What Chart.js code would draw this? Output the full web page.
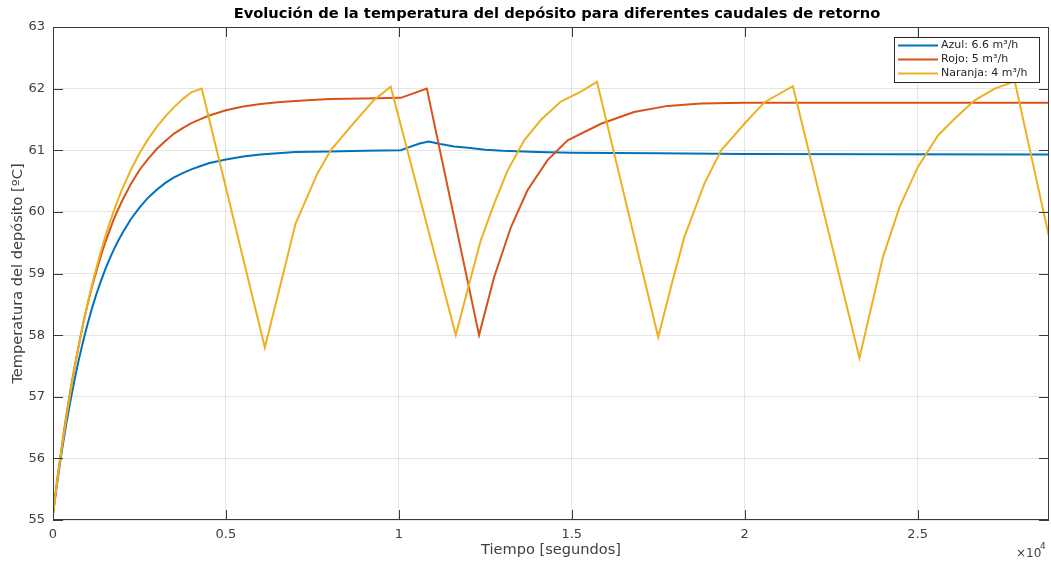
<!DOCTYPE html>
<html>
<head>
<meta charset="utf-8">
<script src="https://cdn.jsdelivr.net/npm/chart.js@4.4.0/dist/chart.umd.min.js"></script>
<style>
  html, body { margin: 0; padding: 0; background: #fff; }
  #wrap { width: 1051px; height: 563px; }
</style>
</head>
<body>
<div id="wrap"><canvas id="chart" width="1051" height="563"></canvas></div>
<script>
// Datos (tiempo en segundos, temperatura en ºC)
const tAzul = [0, 125, 250, 375, 500, 625, 750, 875, 1000, 1125, 1250, 1375, 1500, 1625, 1750, 1875, 2000,
  2250, 2500, 2750, 3000, 3250, 3500, 3750, 4000, 4250, 4500, 5000, 5500, 6000, 6500, 7000, 8000, 9000,
  10055, 10300, 10600, 10865, 11200, 11600, 12000, 12500, 13000, 14000, 15000, 17500, 20000, 24000, 28800];
const azul = [55.1, 55.62, 56.10, 56.53, 56.92, 57.28, 57.61, 57.91, 58.18, 58.43, 58.66, 58.86, 59.05, 59.22, 59.38, 59.52, 59.65,
  59.88, 60.07, 60.23, 60.36, 60.47, 60.56, 60.63, 60.69, 60.74, 60.79, 60.85, 60.90, 60.93, 60.95, 60.97, 60.98, 60.99,
  61.0, 61.05, 61.11, 61.14, 61.10, 61.06, 61.04, 61.01, 60.99, 60.97, 60.96, 60.95, 60.94, 60.935, 60.93];

const tRojo = [0, 125, 250, 375, 500, 625, 750, 875, 1000, 1125, 1250, 1375, 1500, 1625, 1750, 1875, 2000,
  2250, 2500, 2750, 3000, 3250, 3500, 3750, 4000, 4250, 4500, 5000, 5500, 6000, 6500, 7000, 8000, 9000,
  10055, 10810, 12320, 12755, 13240, 13720, 14300, 14880, 15845, 16800, 17775, 18740, 20000, 24000, 28800];
const rojo = [55.1, 55.67, 56.18, 56.66, 57.09, 57.49, 57.85, 58.19, 58.50, 58.78, 59.03, 59.27, 59.49, 59.68, 59.87, 60.03, 60.18,
  60.45, 60.68, 60.86, 61.02, 61.15, 61.27, 61.36, 61.44, 61.50, 61.56, 61.65, 61.71, 61.75, 61.78, 61.80, 61.83, 61.84,
  61.85, 62.0, 58.0, 58.94, 59.75, 60.35, 60.84, 61.16, 61.43, 61.62, 61.72, 61.76, 61.77, 61.77, 61.77];

const tNaranja = [0, 125, 250, 375, 500, 625, 750, 875, 1000, 1125, 1250, 1375, 1500, 1625, 1750, 1875, 2000,
  2250, 2500, 2750, 3000, 3250, 3500, 3750, 4000, 4300,
  6126, 6570, 7014, 7643, 8028, 8694, 9273, 9765,
  11647, 11985, 12370, 12755, 13143, 13625, 14105, 14685, 15265, 15730,
  17500, 17920, 18255, 18835, 19320, 19993, 20573, 21394,
  23320, 24000, 24480, 25010, 25590, 26070, 26650, 27230, 27810, 28800];
const naranja = [55.1, 55.65, 56.16, 56.62, 57.06, 57.47, 57.84, 58.19, 58.51, 58.81, 59.08, 59.34, 59.58, 59.80, 60.00, 60.19, 60.37,
  60.68, 60.95, 61.18, 61.38, 61.55, 61.70, 61.83, 61.94, 62.0,
  57.8, 58.8, 59.81, 60.62, 61.0, 61.44, 61.81, 62.03,
  58.0, 58.73, 59.54, 60.13, 60.67, 61.16, 61.49, 61.79, 61.95, 62.11,
  57.97, 58.89, 59.59, 60.46, 61.0, 61.43, 61.78, 62.04,
  57.63, 59.27, 60.08, 60.73, 61.24, 61.51, 61.81, 62.0, 62.12, 59.6];

const xTicks = [0, 5000, 10000, 15000, 20000, 25000];
const yTicks = [55, 56, 57, 58, 59, 60, 61, 62, 63];
const etiquetas = ["Azul: 6.6 m³/h", "Rojo: 5 m³/h", "Naranja: 4 m³/h"];
const colores = ["#0072BD", "#D95319", "#EDB120"];
const titulo = "Evolución de la temperatura del depósito para diferentes caudales de retorno";

function puntos(ts, vs) {
  return ts.map((t, i) => ({ x: t, y: vs[i] }));
}

Chart.defaults.font.family = "'DejaVu Sans', sans-serif";
Chart.defaults.color = "#404040";

// Marco, ticks interiores, leyenda, título y el x10^4
const decor = {
  id: "decor",
  afterDraw(chart) {
    const ctx = chart.ctx;
    const a = chart.chartArea;
    const xs = chart.scales.x, ys = chart.scales.y;
    ctx.save();
    ctx.strokeStyle = "#3a3a3a";
    ctx.lineWidth = 1;
    ctx.strokeRect(Math.round(a.left) + 0.5, Math.round(a.top) + 0.5,
      Math.round(a.right - a.left) - 1, Math.round(a.bottom - a.top) - 1);
    ctx.beginPath();
    xs.ticks.forEach(t => {
      const px = Math.round(xs.getPixelForValue(t.value)) + 0.5;
      ctx.moveTo(px, a.bottom); ctx.lineTo(px, a.bottom - 10);
      ctx.moveTo(px, a.top); ctx.lineTo(px, a.top + 10);
    });
    ys.ticks.forEach(t => {
      const py = Math.round(ys.getPixelForValue(t.value)) + 0.5;
      ctx.moveTo(a.left, py); ctx.lineTo(a.left + 10, py);
      ctx.moveTo(a.right, py); ctx.lineTo(a.right - 10, py);
    });
    ctx.stroke();

    // leyenda
    const lx = 894, ly = 37, lw = 145, lh = 45;
    ctx.fillStyle = "#fff";
    ctx.fillRect(lx, ly, lw, lh);
    ctx.strokeStyle = "#262626";
    ctx.strokeRect(lx + 0.5, ly + 0.5, lw, lh);
    ctx.font = "11px 'DejaVu Sans'";
    ctx.textBaseline = "middle";
    ctx.textAlign = "left";
    chart.data.datasets.forEach((ds, i) => {
      const y = ly + 8.5 + i * 14;
      ctx.strokeStyle = ds.borderColor;
      ctx.lineWidth = 2;
      ctx.beginPath();
      ctx.moveTo(lx + 4, y); ctx.lineTo(lx + 44, y);
      ctx.stroke();
      ctx.fillStyle = "#262626";
      ctx.fillText(ds.label, lx + 47, y);
    });

    // título
    ctx.fillStyle = "#000";
    ctx.font = "bold 14.7px 'DejaVu Sans'";
    ctx.textAlign = "center";
    ctx.fillText(titulo, 557, 14);

    // multiplicador del eje x
    ctx.fillStyle = "#404040";
    ctx.textAlign = "left";
    ctx.textBaseline = "alphabetic";
    ctx.font = "12px 'DejaVu Sans'";
    ctx.fillText("×10", 1016, 557);
    ctx.font = "9px 'DejaVu Sans'";
    ctx.fillText("4", 1040, 549);
    ctx.restore();
  }
};

const ctx = document.getElementById("chart").getContext("2d");
new Chart(ctx, {
  type: "line",
  data: {
    datasets: [
      { label: etiquetas[0], data: puntos(tAzul, azul), borderColor: colores[0], order: 2 },
      { label: etiquetas[1], data: puntos(tRojo, rojo), borderColor: colores[1], order: 1 },
      { label: etiquetas[2], data: puntos(tNaranja, naranja), borderColor: colores[2], order: 0 },
    ],
  },
  options: {
    responsive: false,
    animation: false,
    devicePixelRatio: 1,
    layout: { padding: { top: 27, right: 2, left: 0, bottom: 0 } },
    elements: {
      line: { borderWidth: 2, tension: 0, fill: false },
      point: { radius: 0, hoverRadius: 0 },
    },
    plugins: { legend: { display: false }, title: { display: false }, tooltip: { enabled: false } },
    scales: {
      x: {
        type: "linear",
        min: 0,
        max: 28800,
        afterFit: s => { s.height = 43; },
        afterBuildTicks: s => { s.ticks = xTicks.map(v => ({ value: v })); },
        ticks: {
          maxRotation: 0,
          autoSkip: false,
          padding: 7,
          font: { size: 13 },
          callback: v => String(v / 10000),
        },
        grid: { color: "rgba(0,0,0,0.1)", drawTicks: false },
        border: { display: false },
        title: { display: true, text: "Tiempo [segundos]", font: { size: 14.6 }, padding: { top: 4, bottom: 4 } },
      },
      y: {
        min: 55,
        max: 63,
        afterFit: s => { s.width = 53; },
        afterBuildTicks: s => { s.ticks = yTicks.map(v => ({ value: v })); },
        ticks: { padding: 8, font: { size: 13 } },
        grid: { color: "rgba(0,0,0,0.1)", drawTicks: false },
        border: { display: false },
        title: { display: true, text: "Temperatura del depósito [ºC]", font: { size: 14.6 }, padding: { top: 9, bottom: 4 } },
      },
    },
  },
  plugins: [decor],
});
</script>
</body>
</html>
